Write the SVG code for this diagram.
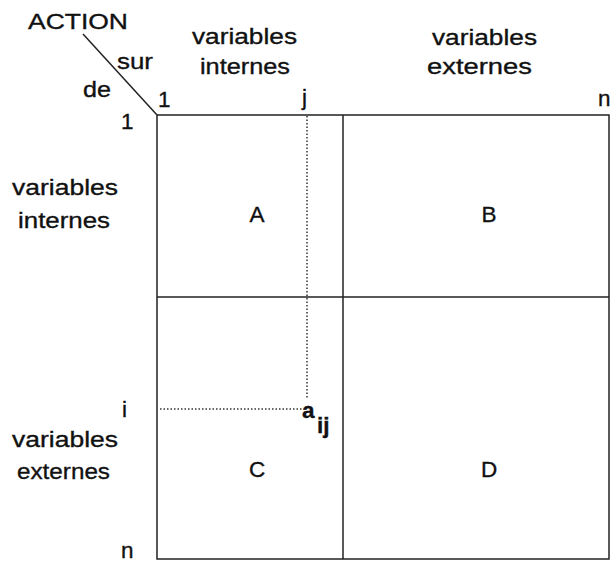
<svg xmlns="http://www.w3.org/2000/svg" width="611" height="567" viewBox="0 0 611 567">
<style>
text{font-family:"Liberation Sans",Arial,sans-serif;font-size:22.5px;fill:#111;stroke:#111;stroke-width:0.35}
.b{font-weight:bold}
.ln{stroke:#222;stroke-width:1.5;fill:none}
.dot{stroke:#333;stroke-width:1.5;stroke-dasharray:1.5 2;fill:none}
</style>
<rect width="611" height="567" fill="#fff"/>
<g id="headers">
<text x="28" y="29" textLength="100" lengthAdjust="spacingAndGlyphs">ACTION</text>
<text x="117" y="69" textLength="36" lengthAdjust="spacingAndGlyphs">sur</text>
<text x="83" y="97" textLength="28" lengthAdjust="spacingAndGlyphs">de</text>
<text x="158" y="107">1</text>
<text x="302" y="105">j</text>
<text x="598" y="106">n</text>
<text x="121" y="129">1</text>
<text x="192" y="44" textLength="105" lengthAdjust="spacingAndGlyphs">variables</text>
<text x="200" y="74" textLength="90" lengthAdjust="spacingAndGlyphs">internes</text>
<text x="432" y="45" textLength="105" lengthAdjust="spacingAndGlyphs">variables</text>
<text x="427" y="74" textLength="105" lengthAdjust="spacingAndGlyphs">externes</text>
<text x="12" y="195" textLength="106" lengthAdjust="spacingAndGlyphs">variables</text>
<text x="18" y="228" textLength="92" lengthAdjust="spacingAndGlyphs">internes</text>
<text x="122" y="417">i</text>
<text x="12" y="447" textLength="106" lengthAdjust="spacingAndGlyphs">variables</text>
<text x="17" y="479" textLength="93" lengthAdjust="spacingAndGlyphs">externes</text>
<text x="121" y="558">n</text>
</g>
<g id="matrix">
<rect class="ln" x="157" y="115" width="452" height="444"/>
<line class="ln" x1="343" y1="115" x2="343" y2="559"/>
<line class="ln" x1="157" y1="297" x2="609" y2="297"/>
</g>
<g id="connectors">
<line class="ln" x1="83" y1="34" x2="157" y2="115" stroke-width="1.2"/>
<line class="dot" x1="307" y1="116" x2="307" y2="398"/>
<line class="dot" x1="160" y1="409" x2="302" y2="409"/>
</g>
<g id="blockA"><text x="257" y="222" text-anchor="middle">A</text></g>
<g id="blockB"><text x="489" y="222" text-anchor="middle">B</text></g>
<g id="blockC"><text x="257" y="477" text-anchor="middle">C</text></g>
<g id="blockD"><text x="489" y="477" text-anchor="middle">D</text></g>
<g id="aij">
<text class="b" x="302" y="418" font-size="24">a</text>
<text class="b" x="317" y="433">ij</text>
</g>
</svg>
